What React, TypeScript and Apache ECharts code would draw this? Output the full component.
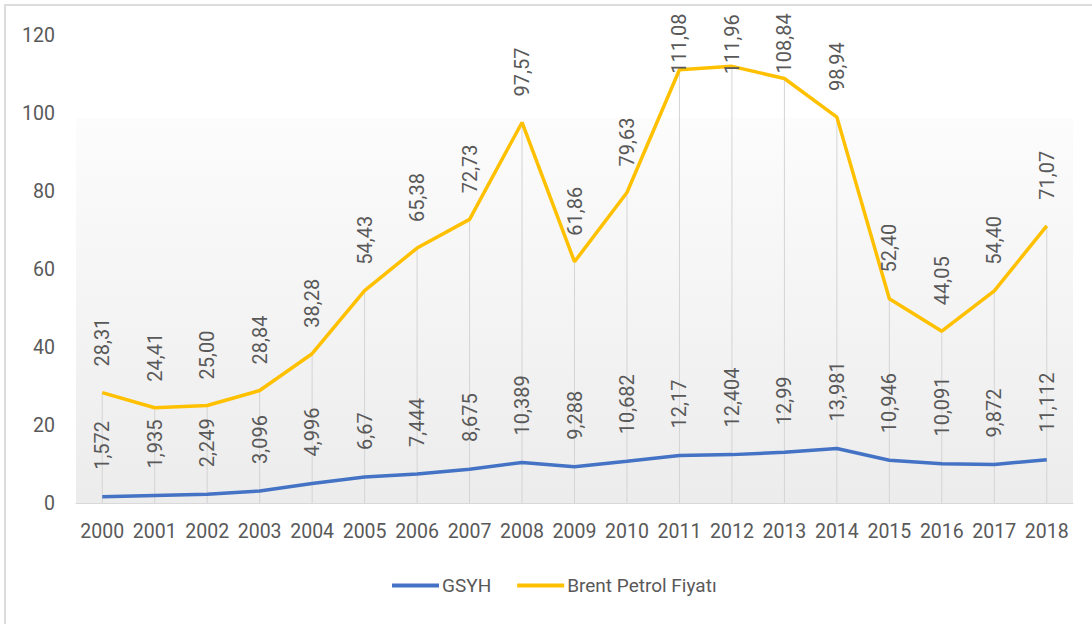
import React, { useEffect, useRef } from "react";
import * as echarts from "echarts";

const years = ["2000","2001","2002","2003","2004","2005","2006","2007","2008","2009","2010","2011","2012","2013","2014","2015","2016","2017","2018"];
const gsyh = [1.572, 1.935, 2.249, 3.096, 4.996, 6.67, 7.444, 8.675, 10.389, 9.288, 10.682, 12.17, 12.404, 12.99, 13.981, 10.946, 10.091, 9.872, 11.112];
const brent = [28.31, 24.41, 25.0, 28.84, 38.28, 54.43, 65.38, 72.73, 97.57, 61.86, 79.63, 111.08, 111.96, 108.84, 98.94, 52.4, 44.05, 54.4, 71.07];
const yTicks = [0, 20, 40, 60, 80, 100, 120];

const FONT = "Roboto";
const TXT = "#595959";

export default function App() {
  const ref = useRef<HTMLDivElement>(null);
  useEffect(() => {
    const chart = echarts.init(ref.current!, null, { renderer: "svg" });
    const brentLabelDist = (i: number) => {
      if (i === 11) return -4;
      if (i === 12) return -8;
      if (i === 13) return 5;
      return 26;
    };
    const baseLabel = {
      show: true,
      position: "top",
      rotate: 90,
      align: "left",
      verticalAlign: "middle",
      distance: 27,
      color: TXT,
      fontSize: 20,
      fontFamily: FONT,
    };
    chart.setOption({
      animation: false,
      backgroundColor: "#ffffff",
      textStyle: { fontFamily: FONT },
      graphic: [
        {
          type: "rect",
          z: -10,
          silent: true,
          shape: { x: 76, y: 118, width: 997, height: 385 },
          style: {
            fill: new echarts.graphic.LinearGradient(0, 0, 0, 1, [
              { offset: 0, color: "#fcfcfc" },
              { offset: 1, color: "#ececec" },
            ]),
          },
        },
        {
          type: "rect",
          z: 100,
          silent: true,
          shape: { x: 5, y: 5, width: 1100, height: 640 },
          style: { fill: "none", stroke: "#dcdcdc", lineWidth: 2 },
        },
      ],
      grid: { left: 76, right: 19, top: 35, bottom: 121, containLabel: false },
      legend: {
        bottom: 24,
        left: 387,
        itemWidth: 47,
        itemHeight: 4,
        itemGap: 26,
        icon: "rect",
        textStyle: { fontFamily: FONT, fontSize: 19, color: TXT, padding: [0, 0, 0, -2] },
        data: ["GSYH", "Brent Petrol Fiyatı"],
      },
      xAxis: {
        type: "category",
        data: years,
        boundaryGap: true,
        axisLine: { lineStyle: { color: "#d9d9d9", width: 1 } },
        axisTick: { show: false },
        axisLabel: { color: TXT, fontSize: 19.5, margin: 18, fontFamily: FONT, interval: 0 },
        splitLine: { show: false },
      },
      yAxis: {
        type: "value",
        min: yTicks[0],
        max: yTicks[yTicks.length - 1],
        interval: 20,
        axisLine: { show: false },
        axisTick: { show: false },
        splitLine: { show: false },
        axisLabel: { color: TXT, fontSize: 19.5, margin: 21, fontFamily: FONT },
      },
      series: [
        {
          name: "drop",
          type: "bar",
          data: brent,
          barWidth: 1,
          silent: true,
          z: 1,
          itemStyle: { color: "#d4d4d4" },
        },
        {
          name: "GSYH",
          type: "line",
          data: gsyh,
          z: 3,
          symbol: "circle",
          symbolSize: 0.1,
          showSymbol: true,
          lineStyle: { color: "#4472C4", width: 3.5 },
          itemStyle: { color: "#4472C4" },
          label: {
            ...baseLabel,
            formatter: (p: any) => String(p.value).replace(".", ","),
          },
        },
        {
          name: "Brent Petrol Fiyatı",
          type: "line",
          z: 4,
          data: brent.map((v, i) => ({
            value: v,
            label: { distance: brentLabelDist(i) },
          })),
          symbol: "circle",
          symbolSize: 0.1,
          showSymbol: true,
          lineStyle: { color: "#FFC000", width: 3.5 },
          itemStyle: { color: "#FFC000" },
          label: {
            ...baseLabel,
            formatter: (p: any) => Number(p.value).toFixed(2).replace(".", ","),
          },
        },
      ],
    });
    return () => chart.dispose();
  }, []);
  return (
    <div
      ref={ref}
      style={{ position: "absolute", left: 0, top: 0, width: 1092, height: 624 }}
    />
  );
}
